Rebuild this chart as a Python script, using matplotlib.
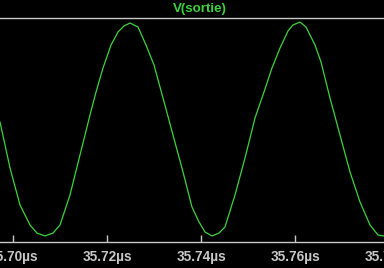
import numpy as np
import matplotlib
matplotlib.use("Agg")
import matplotlib.pyplot as plt
from matplotlib.ticker import FixedLocator, FuncFormatter

# time (µs) and V(sortie) (V)
t_us = [35.69717, 35.69930, 35.70143, 35.70355, 35.70504, 35.70674, 35.70845,
        35.70994, 35.71206, 35.71419, 35.71632, 35.71760, 35.71909, 35.72079,
        35.72228, 35.72355, 35.72483, 35.72653, 35.72823, 35.72994, 35.73185,
        35.73398, 35.73611, 35.73802, 35.73951, 35.74079, 35.74228, 35.74377,
        35.74504, 35.74717, 35.74930, 35.75143, 35.75334, 35.75504, 35.75675,
        35.75845, 35.75951, 35.76100, 35.76228, 35.76419, 35.76547, 35.76738,
        35.76951, 35.77164, 35.77377, 35.77589, 35.77760, 35.77887]
v_sortie = [0.071, -0.339, -0.670, -0.848, -0.920, -0.946, -0.920, -0.848,
            -0.580, -0.223, 0.134, 0.339, 0.554, 0.759, 0.875, 0.929, 0.955,
            0.920, 0.759, 0.580, 0.286, -0.045, -0.375, -0.688, -0.821, -0.911,
            -0.946, -0.920, -0.866, -0.580, -0.250, 0.107, 0.339, 0.554, 0.732,
            0.884, 0.938, 0.964, 0.920, 0.759, 0.607, 0.286, -0.045, -0.375,
            -0.643, -0.848, -0.938, -0.946]

x_ticks = [35.70, 35.72, 35.74, 35.76, 35.78]

green = "#3cd43c"
grey = "#c8c8c8"

fig = plt.figure(figsize=(3.84, 2.68), dpi=100, facecolor="black")
# axes slightly wider than the figure so the edge labels get cut like the original
ax = fig.add_axes([-20 / 384, 26 / 268, 424 / 384, 224 / 268], facecolor="black")

ax.plot(t_us, v_sortie, color=green, lw=0.9)

ax.set_xlim(35.692915, 35.783128)
ax.set_ylim(-1, 1)

ax.xaxis.set_major_locator(FixedLocator(x_ticks))
ax.xaxis.set_major_formatter(FuncFormatter(lambda v, p: f"{v:.2f}\u00b5s"))
ax.set_yticks([])
ax.tick_params(axis="x", direction="in", length=5, width=1, color=grey,
               labelcolor=grey, labelsize=9.8, pad=6)
for lab in ax.get_xticklabels():
    lab.set_fontfamily("Liberation Sans")
    lab.set_fontweight("bold")

for side in ("left", "right"):
    ax.spines[side].set_visible(False)
for side in ("top", "bottom"):
    ax.spines[side].set_color(grey)
    ax.spines[side].set_linewidth(1)

fig.text(200 / 384, 1 - 9 / 268, "V(sortie)", color=green, fontsize=9.6,
         fontweight="bold", family="Liberation Sans", ha="center", va="center")

fig.savefig("out.png", dpi=100, facecolor="black")
